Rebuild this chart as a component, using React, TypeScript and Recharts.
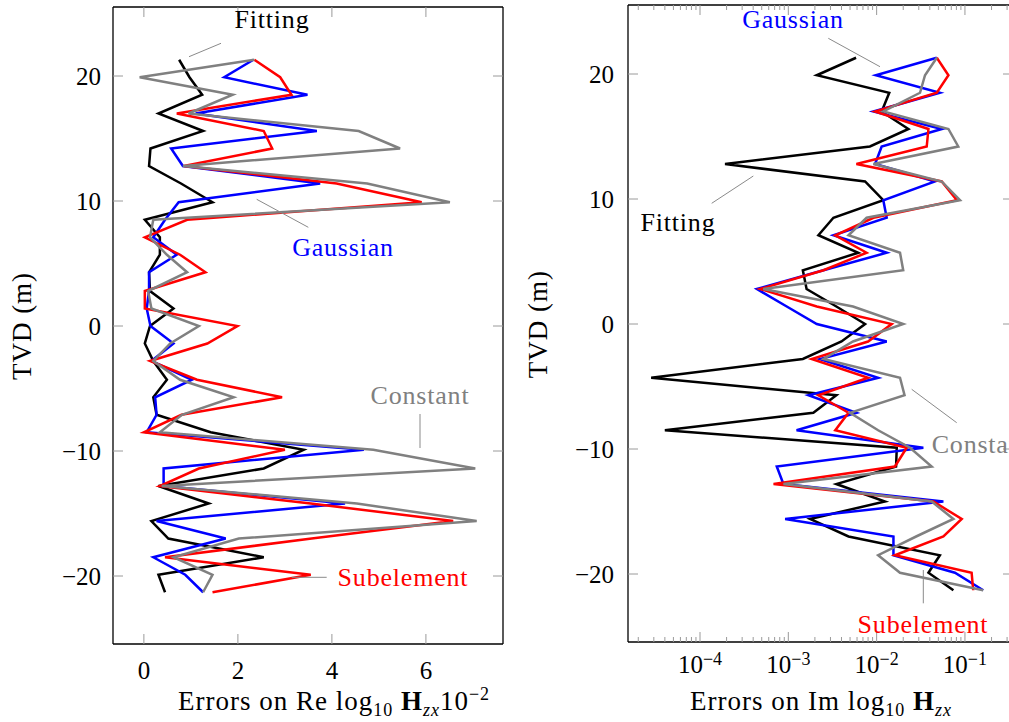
import React from 'react';
import { LineChart, Line, XAxis, YAxis } from 'recharts';

// ---------- data ----------
const tvd = [21.3, 19.9, 18.5, 17.0, 15.6, 14.2, 12.8, 11.4, 9.9, 8.5, 7.1, 5.7, 4.3, 2.8, 1.4, 0.0, -1.4, -2.8, -4.3, -5.7, -7.1, -8.5, -9.9, -11.4, -12.8, -14.2, -15.6, -17.0, -18.5, -19.9, -21.3];

// Real part errors (x 10^-2)
const fittingRe = [0.75, 0.97, 1.24, 0.31, 1.26, 0.14, 0.11, 0.79, 1.46, 0.02, 0.34, 0.34, 0.11, 0.13, 0.63, 0.13, 0.02, 0.2, 0.49, 0.2, 0.27, 1.42, 3.4, 2.55, 0.31, 1.38, 0.16, 0.52, 2.55, 0.31, 0.45];
const gaussianRe = [2.33, 1.71, 3.48, 1.1, 3.68, 0.58, 0.83, 3.75, 0.74, 0.45, 0.2, 0.7, 0.11, 0.11, 0.06, 0.14, 0.63, 0.16, 1.02, 0.24, 0.27, 0.06, 4.68, 0.42, 0.42, 4.28, 0.27, 1.74, 0.2, 0.88, 1.26];
const subelementRe = [2.35, 2.9, 3.14, 0.7, 2.55, 2.73, 0.85, 4.1, 5.91, 0.92, 0.02, 0.77, 1.31, 0.02, 0.02, 1.99, 1.35, 0.13, 1.13, 2.94, 0.8, 0.0, 3.0, 1.17, 0.34, 3.55, 6.58, 3.57, 0.45, 3.55, 1.46];
const constantRe = [2.35, -0.09, 1.89, 0.95, 4.57, 5.45, 0.83, 4.75, 6.51, 0.2, 0.13, 0.49, 0.92, 0.09, 0.16, 1.17, 0.56, 0.2, 0.77, 1.91, 0.81, 0.34, 4.88, 7.05, 0.38, 4.53, 7.08, 2.02, 0.63, 1.46, 1.26];

// Imaginary part errors
const fittingIm = [5.85e-3, 2.1e-3, 1.39e-2, 1.14e-2, 2.29e-2, 8.4e-3, 1.92e-4, 7.4e-3, 1.19e-2, 3.24e-3, 2.19e-3, 6.2e-3, 1.46e-3, 1.61e-3, 3.5e-3, 7.4e-3, 4.0e-3, 1.46e-3, 2.8e-5, 3.5e-3, 1.92e-3, 4.0e-5, 1.69e-2, 1.66e-2, 3.5e-3, 1.24e-2, 1.76e-3, 4.8e-3, 5.2e-2, 3.86e-2, 7.4e-2];
const gaussianIm = [0.048, 9.8e-3, 0.052, 9.2e-3, 0.0546, 0.0114, 0.0096, 0.0458, 0.0119, 0.013, 3.24e-3, 0.013, 2.5e-3, 4.4e-4, 9.6e-4, 2.1e-3, 0.013, 2.28e-3, 0.0104, 1.69e-3, 5.9e-3, 1.24e-3, 0.0338, 7.4e-4, 8.8e-4, 0.057, 9.2e-4, 0.0155, 0.0155, 0.077, 0.161];
const subelementIm = [0.048, 0.065, 0.048, 0.0096, 0.0386, 0.0369, 5.9e-3, 0.0546, 0.081, 9.2e-3, 3.4e-3, 7.7e-3, 2.5e-3, 4.8e-4, 2.1e-3, 0.0148, 8.0e-3, 1.84e-3, 8.0e-3, 2.19e-3, 4.8e-3, 3.4e-3, 0.0219, 0.0161, 6.8e-4, 0.0439, 0.092, 0.057, 0.0161, 0.119, 0.124];
const constantIm = [0.048, 0.0353, 0.031, 0.0119, 0.065, 0.084, 9.2e-3, 0.0546, 0.088, 7.7e-3, 4.8e-3, 0.0184, 0.02, 5.2e-4, 5.4e-3, 0.02, 5.4e-3, 2.5e-3, 0.0184, 0.0207, 5.0e-3, 0.0104, 0.0239, 0.042, 8.8e-4, 0.042, 0.074, 0.028, 0.0104, 0.0184, 0.161];

// ---------- ticks ----------
const tvdTicks = [-20, -10, 0, 10, 20];
const reTicks = [0, 2, 4, 6];
const logMajorTicks = [1e-4, 1e-3, 1e-2, 1e-1];
const logMinorTicks = [
  2e-5, 3e-5, 4e-5, 5e-5, 6e-5, 7e-5, 8e-5, 9e-5,
  2e-4, 3e-4, 4e-4, 5e-4, 6e-4, 7e-4, 8e-4, 9e-4,
  2e-3, 3e-3, 4e-3, 5e-3, 6e-3, 7e-3, 8e-3, 9e-3,
  2e-2, 3e-2, 4e-2, 5e-2, 6e-2, 7e-2, 8e-2, 9e-2,
  2e-1, 3e-1,
];
const logTicks = [...logMajorTicks, ...logMinorTicks].sort((a, b) => a - b);

const leftData = tvd.map((t, i) => ({
  tvd: t,
  fitting: fittingRe[i],
  gaussian: gaussianRe[i],
  subelement: subelementRe[i],
  constant: constantRe[i],
}));
const rightData = tvd.map((t, i) => ({
  tvd: t,
  fitting: fittingIm[i],
  gaussian: gaussianIm[i],
  subelement: subelementIm[i],
  constant: constantIm[i],
}));

// ---------- style ----------
const SERIF = '"Liberation Serif", "Times New Roman", serif';
const FS = 25;
const TICK_COLOR = '#9a9a9a';
const PIN_COLOR = '#8a8a8a';
const axisStyle = { stroke: '#000', strokeWidth: 1.3 };
const series = [
  { key: 'fitting', color: '#000000' },
  { key: 'gaussian', color: '#0000ff' },
  { key: 'subelement', color: '#ff0000' },
  { key: 'constant', color: '#808080' },
];

const minus = (v: number) => (v < 0 ? '\u2212' + Math.abs(v) : String(v));
const allMajor = () => true;
const isDecade = (v: number) => Math.abs(Math.log10(v) - Math.round(Math.log10(v))) < 1e-6;

type Side = 'bottom' | 'top' | 'left' | 'right';

function makeTick(side: Side, isMajor: (v: number) => boolean, label?: (v: number) => React.ReactNode, offset = 0) {
  return (props: any) => {
    const x = Number(props.x);
    const y = Number(props.y);
    const v = Number(props.payload?.value);
    const major = isMajor(v);
    const len = major ? 10 : 5;
    let line: React.ReactNode = null;
    let text: React.ReactNode = null;
    if (side === 'bottom') {
      line = <line x1={x} x2={x} y1={y} y2={y - len} stroke={TICK_COLOR} strokeWidth={1} />;
      if (label && major)
        text = (
          <text x={x} y={y + offset} textAnchor="middle" fontFamily={SERIF} fontSize={FS} fill="#000">
            {label(v)}
          </text>
        );
    } else if (side === 'top') {
      line = <line x1={x} x2={x} y1={y} y2={y + len} stroke={TICK_COLOR} strokeWidth={1} />;
    } else if (side === 'left') {
      line = <line x1={x} x2={x + len} y1={y} y2={y} stroke={TICK_COLOR} strokeWidth={1} />;
      if (label && major)
        text = (
          <text x={x - offset} y={y + 8.5} textAnchor="end" fontFamily={SERIF} fontSize={FS} fill="#000">
            {label(v)}
          </text>
        );
    } else {
      line = <line x1={x} x2={x - len} y1={y} y2={y} stroke={TICK_COLOR} strokeWidth={1} />;
    }
    return (
      <g>
        {line}
        {text}
      </g>
    );
  };
}

const logLabel = (v: number) => (
  <>
    10
    <tspan dy={-8} fontSize={18}>
      {'\u2212' + Math.round(-Math.log10(v))}
    </tspan>
  </>
);

const tvdDomain: [number, number] = [-25.44, 25.52];

function LeftPanel() {
  return (
    <LineChart width={520} height={722} data={leftData} layout="vertical" margin={{ top: 0, right: 0, bottom: 0, left: 0 }}>
      <XAxis xAxisId="b" orientation="bottom" type="number" domain={[-0.657, 7.64]} allowDataOverflow ticks={reTicks} interval={0}
        height={78} tickSize={0} tickMargin={0} tickLine={false} axisLine={axisStyle}
        tick={makeTick('bottom', allMajor, (v) => String(v), 35)} />
      <XAxis xAxisId="t" orientation="top" type="number" domain={[-0.657, 7.64]} allowDataOverflow ticks={reTicks} interval={0}
        height={7} tickSize={0} tickMargin={0} tickLine={false} axisLine={axisStyle}
        tick={makeTick('top', allMajor)} />
      <YAxis yAxisId="l" orientation="left" type="number" dataKey="tvd" domain={tvdDomain} allowDataOverflow ticks={tvdTicks} interval={0}
        reversed width={113} tickSize={0} tickMargin={0} tickLine={false} axisLine={axisStyle}
        tick={makeTick('left', allMajor, minus, 12)} />
      <YAxis yAxisId="r" orientation="right" type="number" dataKey="tvd" domain={tvdDomain} allowDataOverflow ticks={tvdTicks} interval={0}
        reversed width={17} tickSize={0} tickMargin={0} tickLine={false} axisLine={axisStyle}
        tick={makeTick('right', allMajor)} />
      {series.map((s) => (
        <Line key={s.key} xAxisId="b" yAxisId="l" type="linear" dataKey={s.key} stroke={s.color} strokeWidth={2.5}
          dot={false} activeDot={false} isAnimationActive={false} strokeLinejoin="miter" />
      ))}
    </LineChart>
  );
}

const logDomain: [number, number] = [1.53e-5, 0.35];

function RightPanel() {
  return (
    <LineChart width={520} height={722} data={rightData} layout="vertical" margin={{ top: 0, right: 0, bottom: 0, left: 0 }}>
      <XAxis xAxisId="b" orientation="bottom" type="number" scale="log" domain={logDomain} allowDataOverflow ticks={logTicks} interval={0}
        height={80} tickSize={0} tickMargin={0} tickLine={false} axisLine={axisStyle}
        tick={makeTick('bottom', isDecade, logLabel, 31)} />
      <XAxis xAxisId="t" orientation="top" type="number" scale="log" domain={logDomain} allowDataOverflow ticks={logTicks} interval={0}
        height={5} tickSize={0} tickMargin={0} tickLine={false} axisLine={axisStyle}
        tick={makeTick('top', isDecade)} />
      <YAxis yAxisId="l" orientation="left" type="number" dataKey="tvd" domain={tvdDomain} allowDataOverflow ticks={tvdTicks} interval={0}
        reversed width={108} tickSize={0} tickMargin={0} tickLine={false} axisLine={axisStyle}
        tick={makeTick('left', allMajor, minus, 14)} />
      <YAxis yAxisId="r" orientation="right" type="number" dataKey="tvd" domain={tvdDomain} allowDataOverflow ticks={tvdTicks} interval={0}
        reversed width={27} tickSize={0} tickMargin={0} tickLine={false} axisLine={axisStyle}
        tick={makeTick('right', allMajor)} />
      {series.map((s) => (
        <Line key={s.key} xAxisId="b" yAxisId="l" type="linear" dataKey={s.key} stroke={s.color} strokeWidth={2.5}
          dot={false} activeDot={false} isAnimationActive={false} strokeLinejoin="miter" />
      ))}
    </LineChart>
  );
}

function Overlay() {
  const t = { fontFamily: SERIF, fontSize: 26, letterSpacing: 0.8 };
  const tt = { fontFamily: SERIF, fontSize: 27, letterSpacing: 1 };
  const pin = { stroke: PIN_COLOR, strokeWidth: 1 };
  return (
    <svg width={1009} height={722} style={{ position: 'absolute', left: 0, top: 0, pointerEvents: 'none' }}>
      {/* left panel annotations */}
      <line x1={189} y1={56.7} x2={221} y2={43.3} {...pin} />
      <text x={272} y={28} textAnchor="middle" fill="#000" {...t}>Fitting</text>
      <line x1={256.7} y1={199.3} x2={308.3} y2={227.3} {...pin} />
      <text x={343} y={256} textAnchor="middle" fill="#0000ff" {...t}>Gaussian</text>
      <line x1={420} y1={414} x2={420} y2={448} {...pin} />
      <text x={420} y={404} textAnchor="middle" fill="#808080" {...t}>Constant</text>
      <line x1={291.7} y1={577.3} x2={326.7} y2={577.3} {...pin} />
      <text x={403} y={586} textAnchor="middle" fill="#ff0000" {...t}>Subelement</text>

      {/* right panel annotations */}
      <line x1={828.3} y1={38.3} x2={880} y2={66.7} {...pin} />
      <text x={793} y={28} textAnchor="middle" fill="#0000ff" {...t}>Gaussian</text>
      <line x1={711.7} y1={203.3} x2={753.3} y2={176} {...pin} />
      <text x={678} y={231} textAnchor="middle" fill="#000" {...t}>Fitting</text>
      <line x1={911.7} y1={389.3} x2={956.7} y2={422.7} {...pin} />
      <text x={931.7} y={453} textAnchor="start" fill="#808080" {...t}>Constant</text>
      <line x1={923.3} y1={570} x2={923.3} y2={603.3} {...pin} />
      <text x={923} y={633} textAnchor="middle" fill="#ff0000" {...t}>Subelement</text>

      {/* axis titles */}
      <text x={31} y={326} transform="rotate(-90 31 326)" textAnchor="middle" fill="#000" {...tt}>TVD (m)</text>
      <text x={547} y={324} transform="rotate(-90 547 324)" textAnchor="middle" fill="#000" {...tt}>TVD (m)</text>

      <text x={334} y={710} textAnchor="middle" fill="#000" {...tt}>
        Errors on Re log
        <tspan fontSize={18} dy={6}>10</tspan>
        <tspan dy={-6}> </tspan>
        <tspan fontWeight="bold">H</tspan>
        <tspan fontSize={18} fontStyle="italic" dy={6}>zx</tspan>
        <tspan dy={-6}>10</tspan>
        <tspan fontSize={18} dy={-10}>{'\u2212'}2</tspan>
      </text>
      <text x={821} y={710} textAnchor="middle" fill="#000" {...tt}>
        Errors on Im log
        <tspan fontSize={18} dy={6}>10</tspan>
        <tspan dy={-6}> </tspan>
        <tspan fontWeight="bold">H</tspan>
        <tspan fontSize={18} fontStyle="italic" dy={6}>zx</tspan>
      </text>
    </svg>
  );
}

export default function App() {
  return (
    <div style={{ position: 'absolute', left: 0, top: 0, width: 1009, height: 722, overflow: 'hidden', background: '#fff' }}>
      <div style={{ position: 'absolute', left: 0, top: 0 }}>
        <LeftPanel />
      </div>
      <div style={{ position: 'absolute', left: 520, top: 0 }}>
        <RightPanel />
      </div>
      <Overlay />
    </div>
  );
}
